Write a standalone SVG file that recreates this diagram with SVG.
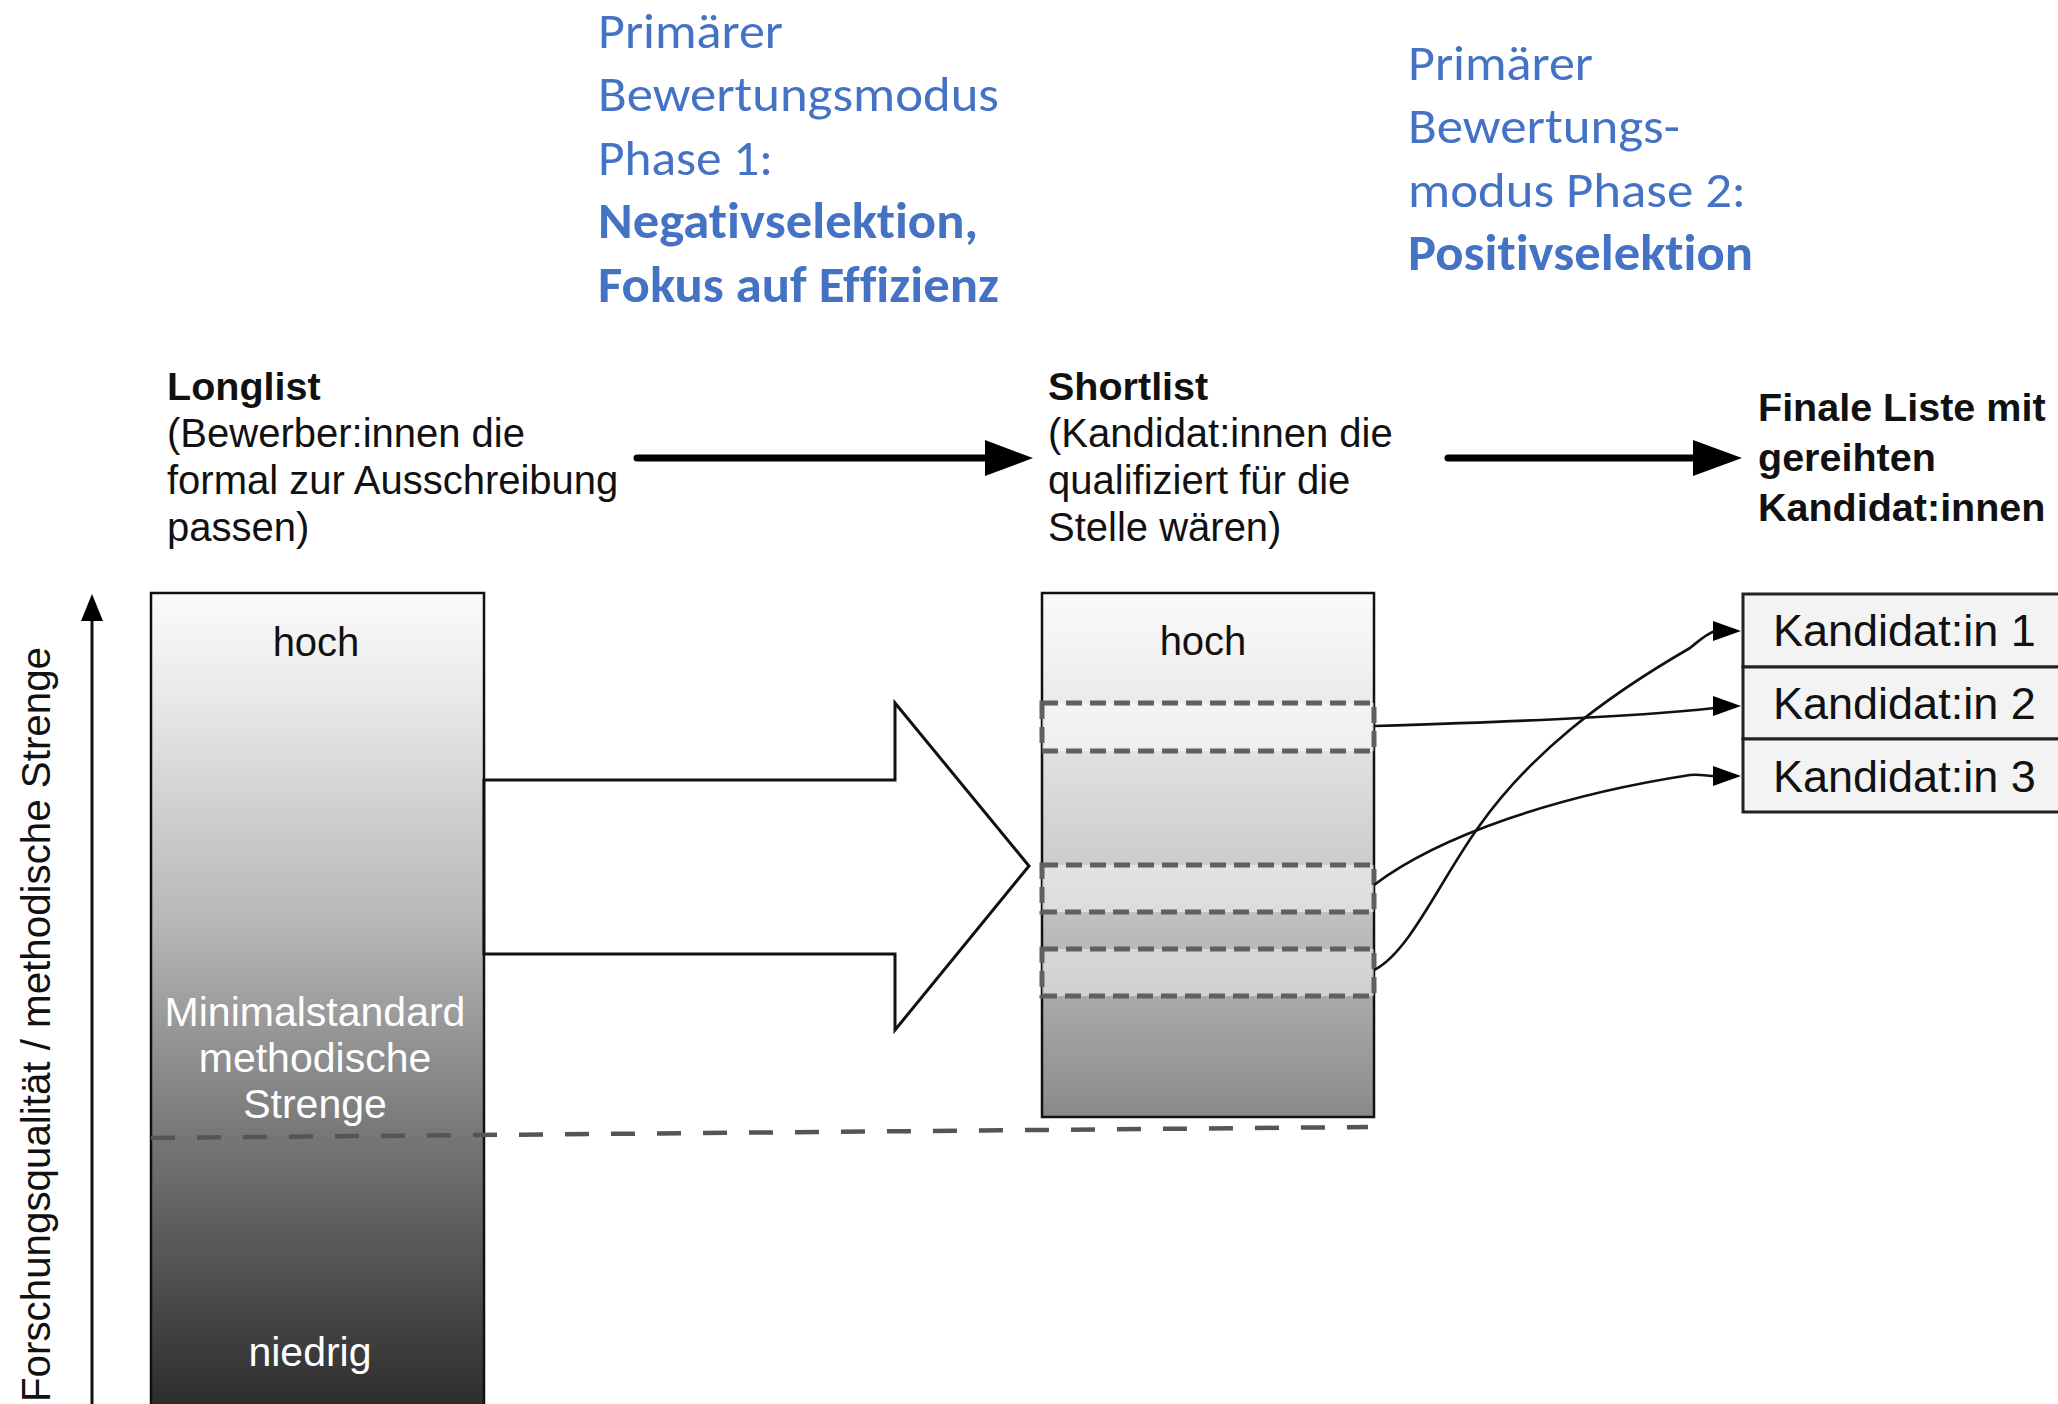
<svg xmlns="http://www.w3.org/2000/svg" width="2058" height="1404" viewBox="0 0 2058 1404">
<defs>
<linearGradient id="gLong" gradientUnits="userSpaceOnUse" x1="0" y1="593" x2="0" y2="1404">
<stop offset="0" stop-color="#fbfbfb"/>
<stop offset="0.12" stop-color="#eaeaea"/>
<stop offset="0.4" stop-color="#b8b8b8"/>
<stop offset="0.68" stop-color="#747474"/>
<stop offset="1" stop-color="#2d2d2d"/>
</linearGradient>
<linearGradient id="gShort" gradientUnits="userSpaceOnUse" x1="0" y1="593" x2="0" y2="1117">
<stop offset="0" stop-color="#fafafa"/>
<stop offset="0.15" stop-color="#f0f0f0"/>
<stop offset="0.55" stop-color="#c9c9c9"/>
<stop offset="1" stop-color="#8a8a8a"/>
</linearGradient>
<style>
.blue{font-family:Carlito,Lato,"Open Sans",sans-serif;font-size:50px;fill:#4472C4;font-variant-ligatures:none;font-feature-settings:"liga" 0,"clig" 0,"dlig" 0}
.bb{font-weight:bold}
.lab{font-family:"Liberation Sans",Arial,sans-serif;font-size:40px;fill:#111}
.b{font-weight:bold;font-size:39.5px}
.mid{text-anchor:middle}
.wht{fill:#ffffff;font-size:41px}
.cand{font-family:"Liberation Sans",Arial,sans-serif;font-size:45px;fill:#111}
.band{fill:#ffffff;fill-opacity:0.45;stroke:#606060;stroke-width:5;stroke-dasharray:16 8}
.conn{fill:none;stroke:#111;stroke-width:2.6}
.head{fill:#000}
.box{fill:#f3f3f3;stroke:#222;stroke-width:3}
</style>
</defs>
<rect width="2058" height="1404" fill="#ffffff"/>

<g id="phase1-text">
<text class="blue" x="598" y="48" textLength="185" lengthAdjust="spacingAndGlyphs">Primärer</text>
<text class="blue" x="598" y="111" textLength="401" lengthAdjust="spacingAndGlyphs">Bewertungsmodus</text>
<text class="blue" x="598" y="175" textLength="175" lengthAdjust="spacingAndGlyphs">Phase 1:</text>
<text class="blue bb" x="598" y="238" textLength="380" lengthAdjust="spacingAndGlyphs">Negativselektion,</text>
<text class="blue bb" x="598" y="302" textLength="401" lengthAdjust="spacingAndGlyphs">Fokus auf Effizienz</text>
</g>

<g id="phase2-text">
<text class="blue" x="1408" y="80" textLength="185" lengthAdjust="spacingAndGlyphs">Primärer</text>
<text class="blue" x="1408" y="143" textLength="272" lengthAdjust="spacingAndGlyphs">Bewertungs-</text>
<text class="blue" x="1408" y="207" textLength="338" lengthAdjust="spacingAndGlyphs">modus Phase 2:</text>
<text class="blue bb" x="1408" y="270" textLength="345" lengthAdjust="spacingAndGlyphs">Positivselektion</text>
</g>

<g id="longlist-label">
<text class="lab b" x="167" y="400">Longlist</text>
<text class="lab" x="167" y="447">(Bewerber:innen die</text>
<text class="lab" x="167" y="494">formal zur Ausschreibung</text>
<text class="lab" x="167" y="541">passen)</text>
</g>

<g id="shortlist-label">
<text class="lab b" x="1048" y="400">Shortlist</text>
<text class="lab" x="1048" y="447">(Kandidat:innen die</text>
<text class="lab" x="1048" y="494">qualifiziert für die</text>
<text class="lab" x="1048" y="541">Stelle wären)</text>
</g>

<g id="final-label">
<text class="lab b" x="1758" y="421">Finale Liste mit</text>
<text class="lab b" x="1758" y="471">gereihten</text>
<text class="lab b" x="1758" y="521">Kandidat:innen</text>
</g>

<g id="axis">
<line x1="92" y1="1410" x2="92" y2="615" stroke="#111" stroke-width="3"/>
<polygon points="92,594 81,621 103,621" fill="#000"/>
<text class="lab" transform="translate(50,1402) rotate(-90)" x="0" y="0" font-size="41" textLength="755" lengthAdjust="spacingAndGlyphs">Forschungsqualität / methodische Strenge</text>
</g>

<g id="longlist">
<rect x="151" y="593" width="333" height="830" fill="url(#gLong)" stroke="#111" stroke-width="2.5"/>
<text class="lab mid" x="316" y="656">hoch</text>
<text class="lab mid wht" x="315" y="1026">Minimalstandard</text>
<text class="lab mid wht" x="315" y="1072">methodische</text>
<text class="lab mid wht" x="315" y="1118">Strenge</text>
<text class="lab mid wht" x="310" y="1366">niedrig</text>
</g>

<g id="shortlist">
<rect x="1042" y="593" width="332" height="524" fill="url(#gShort)" stroke="#111" stroke-width="2.5"/>
<text class="lab mid" x="1203" y="655">hoch</text>
<rect class="band" x="1042" y="703" width="332" height="48"/>
<rect class="band" x="1042" y="865" width="332" height="47"/>
<rect class="band" x="1042" y="949" width="332" height="47"/>
</g>

<g id="final-list">
<rect class="box" x="1743" y="594" width="340" height="73"/>
<rect class="box" x="1743" y="667" width="340" height="72"/>
<rect class="box" x="1743" y="739" width="340" height="73"/>
<text class="cand" x="1773" y="646">Kandidat:in 1</text>
<text class="cand" x="1773" y="719">Kandidat:in 2</text>
<text class="cand" x="1773" y="792">Kandidat:in 3</text>
</g>

<g id="connectors">
<line x1="637" y1="458" x2="990" y2="458" stroke="#000" stroke-width="7" stroke-linecap="round"/>
<polygon points="985,440 1033,458 985,476" fill="#000"/>
<line x1="1448" y1="458" x2="1698" y2="458" stroke="#000" stroke-width="7" stroke-linecap="round"/>
<polygon points="1693,440 1742,458 1693,476" fill="#000"/>
<polygon points="484,780 895,780 895,703 1029,866 895,1030 895,954 484,954" fill="#ffffff" stroke="#111" stroke-width="3" stroke-linejoin="miter"/>
<line x1="151" y1="1138" x2="1368" y2="1127" stroke="#555" stroke-width="4.5" stroke-dasharray="24 22"/>
<path class="conn" d="M1374,726 C1500,722 1620,718 1715,708"/>
<polygon class="head" points="1713,696 1741,706 1713,716"/>
<path class="conn" d="M1374,885 C1440,835 1560,795 1690,775 C1700,774 1708,776 1715,776"/>
<polygon class="head" points="1713,766 1741,776 1713,786"/>
<path class="conn" d="M1374,970 C1410,952 1440,880 1480,825 C1530,755 1600,700 1690,648 C1700,640 1706,634 1715,631"/>
<polygon class="head" points="1713,621 1741,631 1713,641"/>
</g>
</svg>
